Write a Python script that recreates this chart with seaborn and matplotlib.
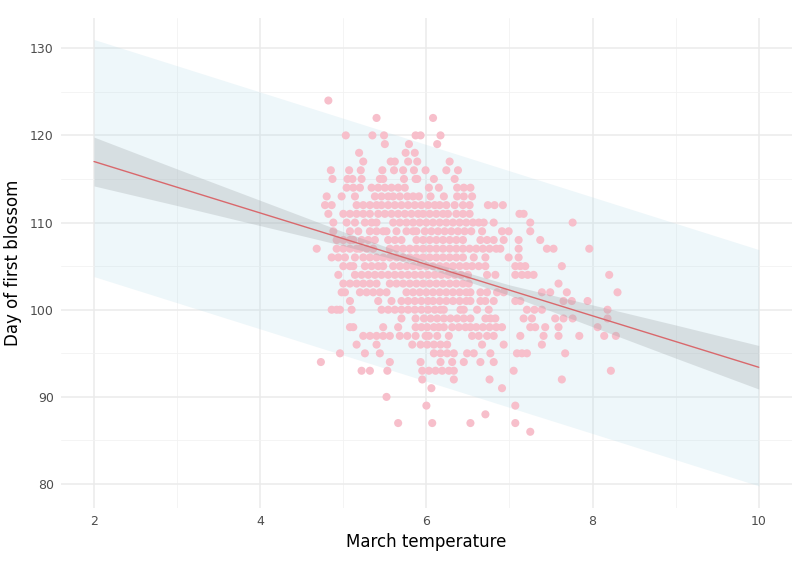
import matplotlib
matplotlib.use("Agg")
import matplotlib.pyplot as plt
from matplotlib.ticker import MultipleLocator
import seaborn as sns
import pandas as pd

# March temperature of each year, grouped by day of first blossom
temp_by_doy = {
    124: [4.82],
    122: [5.40, 6.08],
    120: [5.03, 5.35, 5.49, 5.87, 5.93, 6.17],
    119: [5.50, 5.79, 6.13],
    118: [5.19, 5.75, 5.86],
    117: [5.24, 5.57, 5.62, 5.78, 5.89, 6.28],
    116: [4.85, 5.07, 5.21, 5.47, 5.61, 5.72, 5.85, 5.99, 6.24, 6.38],
    115: [4.87, 5.05, 5.11, 5.22, 5.44, 5.48, 5.73, 5.87, 5.89, 6.09, 6.34],
    114: [5.04, 5.12, 5.20, 5.34, 5.42, 5.50, 5.58, 5.66, 5.74, 6.03, 6.15,
          6.37, 6.45, 6.53],
    113: [4.80, 4.98, 5.14, 5.38, 5.46, 5.54, 5.60, 5.68, 5.77, 5.84, 5.91,
          6.05, 6.21, 6.37, 6.45, 6.55],
    112: [4.78, 4.86, 5.16, 5.24, 5.32, 5.40, 5.46, 5.54, 5.62, 5.70, 5.78,
          5.86, 5.94, 6.02, 6.10, 6.16, 6.24, 6.34, 6.44, 6.52, 6.74, 6.82, 6.92],
    111: [4.82, 5.00, 5.08, 5.16, 5.24, 5.32, 5.42, 5.50, 5.58, 5.66, 5.74,
          5.82, 5.90, 5.96, 6.04, 6.12, 6.20, 6.26, 6.36, 6.44, 6.52, 7.12, 7.17],
    110: [4.88, 5.04, 5.14, 5.26, 5.34, 5.40, 5.60, 5.68, 5.76, 5.84, 5.92,
          6.00, 6.08, 6.16, 6.24, 6.32, 6.40, 6.48, 6.56, 6.63, 6.69, 6.81,
          7.25, 7.76],
    109: [4.88, 5.08, 5.18, 5.32, 5.40, 5.48, 5.52, 5.64, 5.76, 5.84, 5.88,
          5.98, 6.06, 6.14, 6.22, 6.30, 6.38, 6.46, 6.54, 6.67, 6.91, 6.99, 7.25],
    108: [4.92, 5.00, 5.08, 5.12, 5.22, 5.30, 5.38, 5.54, 5.62, 5.70, 5.88,
          5.96, 6.04, 6.12, 6.20, 6.28, 6.36, 6.44, 6.65, 6.73, 6.81, 6.93,
          7.11, 7.37],
    107: [4.68, 4.92, 5.00, 5.08, 5.16, 5.20, 5.28, 5.36, 5.56, 5.64, 5.72,
          5.80, 5.88, 5.96, 6.04, 6.12, 6.20, 6.28, 6.36, 6.44, 6.52, 6.60,
          6.68, 6.76, 6.84, 6.89, 7.11, 7.45, 7.53, 7.96],
    106: [4.86, 4.94, 5.02, 5.14, 5.24, 5.32, 5.40, 5.48, 5.56, 5.64, 5.72,
          5.80, 5.88, 5.96, 6.04, 6.12, 6.20, 6.28, 6.36, 6.44, 6.57, 6.71,
          6.99, 7.11],
    105: [5.00, 5.08, 5.12, 5.26, 5.34, 5.42, 5.48, 5.60, 5.68, 5.76, 5.84,
          5.92, 6.00, 6.08, 6.16, 6.24, 6.32, 6.40, 6.48, 6.55, 6.63, 6.71,
          7.07, 7.13, 7.19, 7.63],
    104: [4.94, 5.14, 5.22, 5.30, 5.38, 5.46, 5.54, 5.62, 5.70, 5.78, 5.86,
          5.94, 6.02, 6.10, 6.18, 6.26, 6.34, 6.42, 6.50, 6.73, 6.83, 7.07,
          7.15, 7.22, 7.29, 8.20],
    103: [5.00, 5.08, 5.16, 5.24, 5.32, 5.40, 5.56, 5.64, 5.72, 5.80, 5.88,
          5.96, 6.04, 6.12, 6.20, 6.28, 6.36, 6.44, 6.51, 7.59],
    102: [4.98, 5.02, 5.20, 5.28, 5.36, 5.44, 5.52, 5.76, 5.84, 5.92, 6.00,
          6.08, 6.16, 6.24, 6.32, 6.40, 6.48, 6.53, 6.65, 6.73, 6.85, 6.93,
          7.39, 7.49, 7.69, 8.30],
    101: [5.08, 5.42, 5.58, 5.70, 5.78, 5.86, 5.94, 6.02, 6.08, 6.16, 6.24,
          6.32, 6.40, 6.48, 6.53, 6.65, 6.71, 6.81, 7.07, 7.13, 7.65, 7.75, 7.94],
    100: [4.86, 4.92, 4.96, 5.10, 5.46, 5.54, 5.62, 5.70, 5.78, 5.86, 5.94,
          6.02, 6.10, 6.17, 6.21, 6.41, 6.45, 6.61, 6.75, 7.21, 7.30, 7.39, 8.18],
    99: [5.70, 5.87, 5.97, 6.05, 6.13, 6.21, 6.29, 6.37, 6.45, 6.53, 6.71,
         6.77, 6.83, 7.17, 7.27, 7.55, 7.65, 7.76, 8.18],
    98: [5.08, 5.12, 5.48, 5.66, 5.87, 5.94, 6.01, 6.09, 6.15, 6.21, 6.31,
         6.39, 6.47, 6.53, 6.60, 6.68, 6.76, 6.84, 6.91, 7.25, 7.31, 7.43,
         7.59, 8.06],
    97: [5.24, 5.32, 5.40, 5.48, 5.56, 5.68, 5.77, 5.87, 5.99, 6.03, 6.13,
         6.27, 6.55, 6.63, 6.73, 6.81, 7.13, 7.41, 7.59, 7.84, 8.14, 8.28],
    96: [5.16, 5.40, 5.83, 5.93, 6.01, 6.09, 6.17, 6.25, 6.67, 6.93, 7.39],
    95: [4.96, 5.26, 5.44, 6.09, 6.17, 6.25, 6.33, 6.49, 6.57, 6.77, 7.09,
         7.15, 7.21, 7.67],
    94: [4.73, 5.56, 5.93, 6.17, 6.31, 6.45, 6.65, 6.81],
    93: [5.22, 5.32, 5.53, 5.95, 6.03, 6.11, 6.19, 6.27, 6.33, 7.05, 8.22],
    92: [5.95, 6.33, 6.76, 7.63],
    91: [6.06, 6.91],
    90: [5.52],
    89: [6.00, 7.07],
    88: [6.71],
    87: [5.66, 6.07, 6.53, 7.07],
    86: [7.25],
}

# fitted line with its 95% interval for the mean
fit_temp = [2, 3, 4, 5, 6, 7, 8, 9, 10]
fit_doy = [117.0, 114.05, 111.1, 108.15, 105.2, 102.25, 99.3, 96.35, 93.4]
fit_lower = [114.2, 111.95, 109.65, 107.35, 104.8, 101.65, 98.05, 94.45, 90.9]
fit_upper = [119.8, 116.15, 112.55, 108.95, 105.6, 102.85, 100.55, 98.25, 95.9]

# 95% prediction interval
pred_temp = [2, 10]
pred_lower = [103.8, 79.8]
pred_upper = [131.0, 106.9]

rows = []
for doy, temps in temp_by_doy.items():
    for t in temps:
        rows.append({"temp": t, "doy": doy})
df = pd.DataFrame(rows)

sns.set_theme(style="white")
plt.rcParams['font.family'] = ['DejaVu Sans']

fig = plt.figure(figsize=(8, 5.71), dpi=100)
ax = fig.add_axes([0.076, 0.111, 0.914, 0.858])

ax.fill_between(pred_temp, pred_lower, pred_upper, color="lightblue",
                alpha=0.2, linewidth=0, zorder=1)
sns.scatterplot(data=df, x="temp", y="doy", color="#F7BFCB", s=34,
                edgecolor="none", linewidth=0, ax=ax, zorder=2)
ax.fill_between(fit_temp, fit_lower, fit_upper, color="#9AA0A3",
                alpha=0.28, linewidth=0, zorder=3)
sns.lineplot(x=fit_temp, y=fit_doy, color="#D9686C", linewidth=1.0, ax=ax,
             zorder=4)

ax.set_xlim(1.6, 10.4)
ax.set_ylim(77.3, 133.5)
ax.xaxis.set_major_locator(MultipleLocator(2))
ax.xaxis.set_minor_locator(MultipleLocator(1))
ax.yaxis.set_major_locator(MultipleLocator(10))
ax.yaxis.set_minor_locator(MultipleLocator(5))
ax.grid(True, which="major", color="#EBEBEB", linewidth=1.1, zorder=0)
ax.grid(True, which="minor", color="#F2F2F2", linewidth=0.6, zorder=0)
ax.set_axisbelow(True)
for s in ax.spines.values():
    s.set_visible(False)
ax.tick_params(which="both", length=0, labelsize=9, labelcolor="#4D4D4D", pad=5)

ax.set_xlabel("March temperature", fontsize=12, color="black", labelpad=4)
ax.set_ylabel("Day of first blossom", fontsize=12, color="black", labelpad=6)

fig.savefig("out.png", dpi=100)
